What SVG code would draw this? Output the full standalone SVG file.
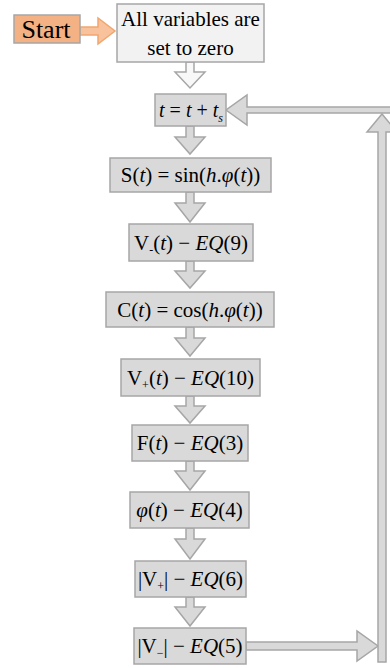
<svg xmlns="http://www.w3.org/2000/svg" width="390" height="668" viewBox="0 0 390 668">
<style>
.box{fill:#d9d9d9;stroke:#a6a6a6;stroke-width:1.5}
.box0{fill:#f2f2f2;stroke:#a6a6a6;stroke-width:1.5}
.start{fill:#f4b183;stroke:#a6a6a6;stroke-width:1.5}
.arr{fill:#d9d9d9;stroke:#a6a6a6;stroke-width:1.5;stroke-linejoin:miter}
.arr0{fill:#f8f8f8;stroke:#a6a6a6;stroke-width:1.5}
.oarr{fill:#f8c39c;stroke:#f2a66f;stroke-width:1.5}
text{font-family:"Liberation Serif","DejaVu Serif",serif;font-size:21px;fill:#000;text-anchor:middle}
.i{font-style:italic}
.sub{font-size:12px}
</style>
<rect width="390" height="668" fill="#ffffff"/>
<g id="connectors">
<path class="oarr" d="M80,27 L98,27 L98,18 L115,31 L98,44 L98,35 L80,35 Z"/>
<path class="arr0" d="M186,62 L194,62 L194,72 L205,72 L190,88 L175,72 L186,72 Z"/>
<path class="arr" d="M186,126 L194,126 L194,137 L205,137 L190,154 L175,137 L186,137 Z"/>
<path class="arr" d="M186,192 L194,192 L194,203 L205,203 L190,222 L175,203 L186,203 Z"/>
<path class="arr" d="M186,261 L194,261 L194,271 L205,271 L190,288 L175,271 L186,271 Z"/>
<path class="arr" d="M186,327 L194,327 L194,338 L205,338 L190,356 L175,338 L186,338 Z"/>
<path class="arr" d="M186,396 L194,396 L194,406 L205,406 L190,423 L175,406 L186,406 Z"/>
<path class="arr" d="M186,461 L194,461 L194,471 L205,471 L190,490 L175,471 L186,471 Z"/>
<path class="arr" d="M186,528 L194,528 L194,539 L205,539 L190,559 L175,539 L186,539 Z"/>
<path class="arr" d="M186,597 L194,597 L194,607 L205,607 L190,626 L175,607 L186,607 Z"/>
<path class="arr" d="M246,642 L357,642 L357,631 L378,646 L357,661 L357,650 L246,650 Z"/>
<path class="arr" d="M378,662 L378,132 L367,132 L382,114 L397,132 L386,132 L386,662 Z"/>
<path class="arr" d="M392,107 L247,107 L247,95 L226,110 L247,125 L247,113 L392,113 Z"/>
</g>
<g id="start">
<rect class="start" x="14" y="15" width="66" height="28"/>
<text x="46" y="38" font-family="Liberation Serif, serif" style="font-size:26px">Start</text>
</g>
<g id="init" font-family="Liberation Serif, serif">
<rect class="box0" x="117" y="4" width="147" height="58"/>
<text x="190.5" y="26">All variables are</text>
<text x="190.5" y="55">set to zero</text>
</g>
<g id="n-t">
<rect class="box" x="155" y="94" width="71" height="32"/>
<text x="191" y="117" style="font-size:20px"><tspan class="i">t</tspan> = <tspan class="i">t</tspan> + <tspan class="i">t</tspan><tspan class="sub i" dy="5">s</tspan></text>
</g>
<g id="n-s">
<rect class="box" x="110" y="158" width="161" height="34"/>
<text x="190.5" y="182">S(<tspan class="i">t</tspan>) = sin(<tspan class="i">h</tspan>.<tspan class="i">φ</tspan>(<tspan class="i">t</tspan>))</text>
</g>
<g id="n-vminus">
<rect class="box" x="129" y="224" width="124" height="37"/>
<text x="191" y="250">V<tspan class="sub" dy="4">-</tspan><tspan dy="-4">(</tspan><tspan class="i">t</tspan>) − <tspan class="i">EQ</tspan>(9)</text>
</g>
<g id="n-c">
<rect class="box" x="106" y="292" width="168" height="35"/>
<text x="190" y="317">C(<tspan class="i">t</tspan>) = cos(<tspan class="i">h</tspan>.<tspan class="i">φ</tspan>(<tspan class="i">t</tspan>))</text>
</g>
<g id="n-vplus">
<rect class="box" x="121" y="359" width="139" height="37"/>
<text x="190.5" y="385">V<tspan class="sub" dy="4">+</tspan><tspan dy="-4">(</tspan><tspan class="i">t</tspan>) − <tspan class="i">EQ</tspan>(10)</text>
</g>
<g id="n-f">
<rect class="box" x="132" y="425" width="116" height="36"/>
<text x="190" y="450">F(<tspan class="i">t</tspan>) − <tspan class="i">EQ</tspan>(3)</text>
</g>
<g id="n-phi">
<rect class="box" x="130" y="492" width="119" height="36"/>
<text x="189.5" y="517"><tspan class="i">φ</tspan>(<tspan class="i">t</tspan>) − <tspan class="i">EQ</tspan>(4)</text>
</g>
<g id="n-absvplus">
<rect class="box" x="135" y="561" width="111" height="36"/>
<text x="190.5" y="586">|V<tspan class="sub" dy="4">+</tspan><tspan dy="-4">|</tspan> − <tspan class="i">EQ</tspan>(6)</text>
</g>
<g id="n-absvminus">
<rect class="box" x="134" y="628" width="112" height="36"/>
<text x="190" y="653">|V<tspan class="sub" dy="4">−</tspan><tspan dy="-4">|</tspan> − <tspan class="i">EQ</tspan>(5)</text>
</g>
</svg>
